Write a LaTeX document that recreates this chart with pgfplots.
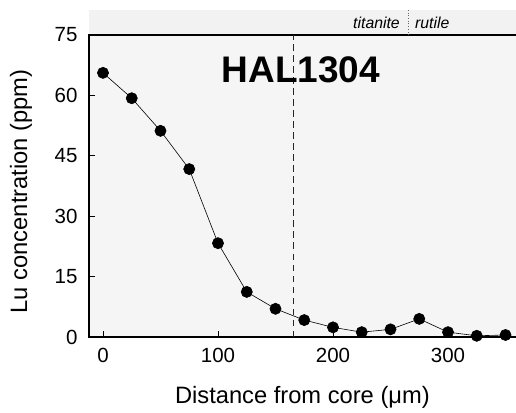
\documentclass[border=0pt]{standalone}
\usepackage{pgfplots}
\pgfplotsset{compat=1.18}
\usepackage{fontspec}
\setmainfont{Liberation Sans}
\begin{document}
\begin{tikzpicture}
\useasboundingbox (-89pt,-75pt) rectangle (427pt,337pt);
\begin{axis}[
  at={(0pt,0pt)}, anchor=south west,
  scale only axis, width=440pt, height=302pt,
  xmin=-12.17, xmax=370.43, ymin=0, ymax=75,
  clip=false,
  axis line style={line width=1.2pt},
  axis background/.style={fill=black!4},
  xtick={0,100,200,300}, ytick={0,15,30,45,60,75},
  xtick pos=bottom, ytick pos=left,
  tick align=inside, major tick length=6pt,
  tick style={line width=0.8pt, black},
  /pgf/number format/assume math mode=true,
  tick label style={font=\fontsize{20.5}{21}\selectfont},
  xticklabel style={yshift=-8pt},
  yticklabel style={xshift=-8pt},
  xlabel={Distance from core (μm)},
  ylabel={Lu concentration (ppm)},
  every axis x label/.style={at={(axis description cs:0.485,-0.1987)}, anchor=center, font=\fontsize{23.7}{24}\selectfont},
  every axis y label/.style={at={(axis description cs:-0.1545,0.482)}, rotate=90, anchor=center, font=\fontsize{23.7}{24}\selectfont},
]
\fill[black!5] (rel axis cs:0,1) rectangle ([yshift=25pt]rel axis cs:1,1);
\draw[black, line width=1.2pt] (rel axis cs:0,1) -- (rel axis cs:1,1);
\draw[dotted, line width=0.7pt, black!60] (axis cs:265.2,75) -- ([yshift=25pt]axis cs:265.2,75);
\node[anchor=base east, font=\fontsize{15.8}{16}\selectfont\itshape, inner sep=0pt] at ([xshift=-8pt,yshift=6.7pt]axis cs:265.2,75) {titanite};
\node[anchor=base west, font=\fontsize{15.8}{16}\selectfont\itshape, inner sep=0pt] at ([xshift=7pt,yshift=6.7pt]axis cs:265.2,75) {rutile};
\draw[line width=1.4pt, black!85, dash pattern=on 6.5pt off 4.5pt] (axis cs:165.7,0) -- (axis cs:165.7,75);
\node[anchor=base, font=\fontsize{37}{37}\selectfont\bfseries, inner sep=0pt] at (axis cs:172,63.3) {HAL1304};
\addplot[black, line width=0.6pt, mark=*, mark size=5.6pt, mark options={fill=black}] coordinates {
(0,65.6) (25,59.3) (50,51.2) (75,41.7) (100,23.3) (125,11.2) (150,7.0) (175,4.2)
(200,2.4) (225,1.2) (250,1.9) (275,4.5) (300,1.2) (325,0.3) (350,0.5)
};
\end{axis}
\end{tikzpicture}
\end{document}
